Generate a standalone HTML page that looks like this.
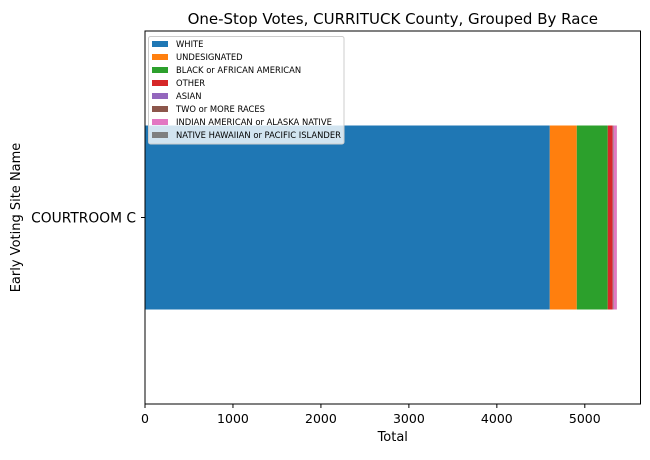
<!DOCTYPE html>
<html><head><meta charset="utf-8"><style>
body{margin:0;background:#fff;font-family:"Liberation Sans","DejaVu Sans",sans-serif}
svg text{font-family:"DejaVu Sans","Liberation Sans",sans-serif}
</style></head><body>
<svg id="c" width="650" height="455" viewBox="0 0 650 455" xmlns="http://www.w3.org/2000/svg"></svg>
<script>
const categories=["COURTROOM C"];
const series=["WHITE","UNDESIGNATED","BLACK or AFRICAN AMERICAN","OTHER","ASIAN","TWO or MORE RACES","INDIAN AMERICAN or ALASKA NATIVE","NATIVE HAWAIIAN or PACIFIC ISLANDER"];
const values=[4602,307,352,57,6,6,34,1];
const colors=["#1f77b4","#ff7f0e","#2ca02c","#d62728","#9467bd","#8c564b","#e377c2","#7f7f7f"];
const xTicks=[0,1000,2000,3000,4000,5000];
const NS="http://www.w3.org/2000/svg";
const svg=document.getElementById('c');
const L=145,R=640.5,T=31,B=404;
const total=values.reduce((a,b)=>a+b,0);
const xmax=total*1.05;
const x=v=>L+(v/xmax)*(R-L);
const y=i=>T+(B-T)*(i+0.5)/categories.length;
function el(t,a){const e=document.createElementNS(NS,t);for(const k in a)e.setAttribute(k,a[k]);svg.appendChild(e);return e;}
const bh=184;
categories.forEach((c,ci)=>{let acc=0;values.forEach((v,i)=>{const r=el('rect',{x:x(acc),y:y(ci)-bh/2,width:Math.max(0,x(acc+v)-x(acc)),height:bh,fill:colors[i]});

acc+=v;});
const t=el('text',{x:L-9,y:y(ci)+5,'text-anchor':'end','font-size':13.8});t.textContent=c;

el('line',{x1:L-4,x2:L,y1:y(ci),y2:y(ci),stroke:'#000'});});
xTicks.forEach(v=>{el('line',{x1:x(v),x2:x(v),y1:B,y2:B+4,stroke:'#000'});
const t=el('text',{x:x(v),y:B+19,'text-anchor':'middle','font-size':12.5});t.textContent=v;
});
const f=el('rect',{x:L,y:T,width:R-L,height:B-T,fill:'none',stroke:'#000','stroke-width':1});

let t=el('text',{x:(L+R)/2,y:441,'text-anchor':'middle','font-size':13});t.textContent='Total';

t=el('text',{x:0,y:0,'text-anchor':'middle','font-size':13,transform:`translate(20,${(T+B)/2}) rotate(-90)`});t.textContent='Early Voting Site Name';

t=el('text',{x:(L+R)/2,y:24,'text-anchor':'middle','font-size':15});t.textContent='One-Stop Votes, CURRITUCK County, Grouped By Race';

const lg=el('rect',{x:148.5,y:36.5,width:195.5,height:107.5,fill:'rgba(255,255,255,0.8)',stroke:'#ccc',rx:2});

series.forEach((s,i)=>{const yy=44+i*13;
const r=el('rect',{x:152,y:yy-3,width:16,height:6,fill:colors[i]});
const tt=el('text',{x:176,y:yy+3,'font-size':8.4});tt.textContent=s;});
</script>
</body></html>
